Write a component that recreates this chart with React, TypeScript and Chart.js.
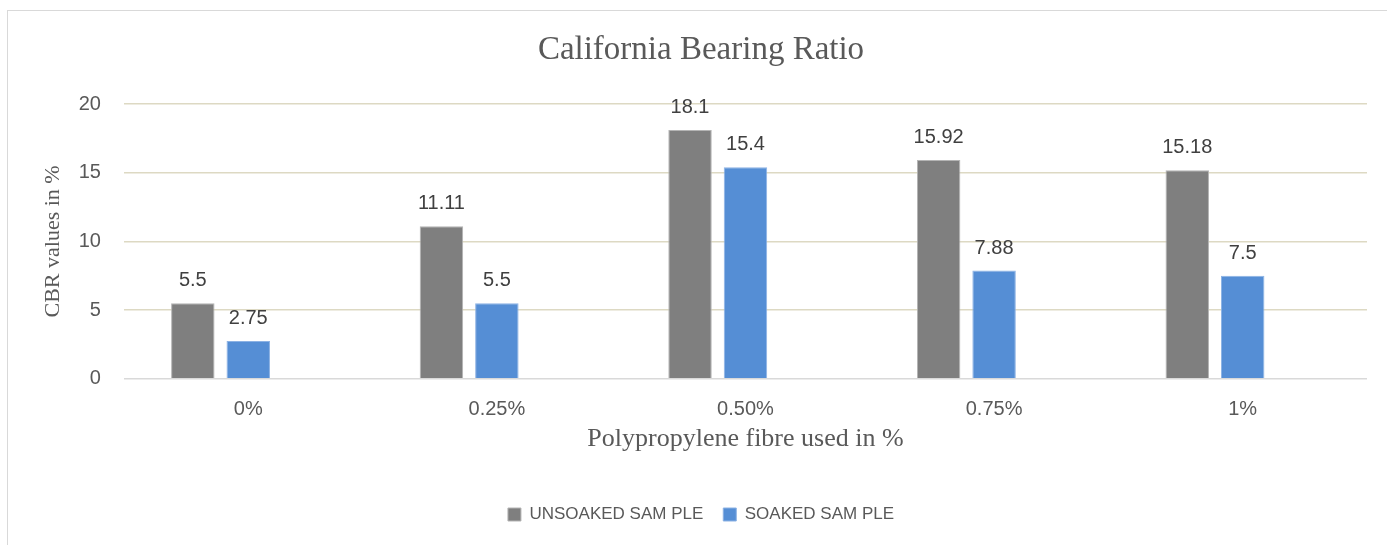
import React, { useEffect, useRef } from "react";
import { Chart, registerables } from "chart.js";

Chart.register(...registerables);

const categories = ["0%", "0.25%", "0.50%", "0.75%", "1%"];
const unsoaked = [5.5, 11.11, 18.1, 15.92, 15.18];
const soaked = [2.75, 5.5, 15.4, 7.88, 7.5];
const emptySeries = [null, null, null, null, null];
const seriesNames = ["UNSOAKED SAM PLE", "SOAKED SAM PLE", ""];
const yTicks = [0, 5, 10, 15, 20];

const SANS = '"Liberation Sans", Arial, Helvetica, sans-serif';
const SERIF = '"Liberation Serif", "Times New Roman", serif';

const valueLabels = {
  id: "valueLabels",
  afterDatasetsDraw(chart: any) {
    const ctx = chart.ctx;
    ctx.save();
    ctx.font = `20px ${SANS}`;
    ctx.fillStyle = "#404040";
    ctx.textAlign = "center";
    ctx.textBaseline = "alphabetic";
    chart.data.datasets.forEach((ds: any, i: number) => {
      const meta = chart.getDatasetMeta(i);
      meta.data.forEach((bar: any, j: number) => {
        const v = ds.data[j];
        if (v == null) return;
        ctx.fillText(String(v), bar.x, bar.y - 17);
      });
    });
    ctx.restore();
  },
};

export default function App() {
  const ref = useRef<HTMLCanvasElement | null>(null);

  useEffect(() => {
    if (!ref.current) return;
    const chart = new Chart(ref.current, {
      type: "bar",
      data: {
        labels: categories,
        datasets: [
          {
            label: seriesNames[0],
            data: unsoaked,
            backgroundColor: "#7f7f7f",
            borderColor: "#b4b4b4",
            borderWidth: 1,
          },
          {
            label: seriesNames[1],
            data: soaked,
            backgroundColor: "#558ed5",
            borderColor: "#8cb2e4",
            borderWidth: 1,
          },
          {
            label: seriesNames[2],
            data: emptySeries as any,
            backgroundColor: "rgba(0,0,0,0)",
          },
        ],
      },
      options: {
        responsive: false,
        animation: false,
        devicePixelRatio: 1,
        datasets: {
          bar: {
            categoryPercentage: 0.669,
            barPercentage: 0.784,
          },
        },
        layout: {
          padding: { left: 28, right: 28, top: 0, bottom: 12 },
        },
        scales: {
          x: {
            grid: { display: false, drawTicks: false },
            border: { display: false },
            ticks: {
              color: "#595959",
              font: { family: SANS, size: 20 },
              padding: 18.5,
            },
            title: {
              display: true,
              text: "Polypropylene fibre used in %",
              color: "#595959",
              font: { family: SERIF, size: 26 },
              padding: { top: -16.5, bottom: 31.5 },
            },
          },
          y: {
            min: 0,
            max: 20,
            afterBuildTicks: (axis: any) => {
              axis.ticks = yTicks.map((v) => ({ value: v }));
            },
            grid: {
              drawTicks: false,
              color: (c: any) => (c.tick && c.tick.value === 0 ? "#d9d9d9" : "#ddd9c3"),
              lineWidth: 1.5,
            },
            border: { display: false },
            ticks: {
              color: "#595959",
              font: { family: SANS, size: 20 },
              padding: 23,
            },
            title: {
              display: true,
              text: "CBR values in %",
              color: "#595959",
              font: { family: SERIF, size: 22 },
              padding: { top: 5.3, bottom: -11 },
            },
          },
        },
        plugins: {
          title: {
            display: true,
            text: "California Bearing Ratio",
            color: "#595959",
            font: { family: SERIF, size: 33, weight: "normal" },
            padding: { top: 20.4, bottom: 34 },
          },
          legend: {
            display: true,
            position: "bottom",
            labels: {
              boxWidth: 13,
              boxHeight: 13,
              padding: 20,
              color: "#595959",
              font: { family: SANS, size: 17 },
              filter: (item: any) => item.text !== "",
            },
          },
          tooltip: { enabled: false },
        },
      },
      plugins: [valueLabels],
    } as any);
    return () => chart.destroy();
  }, []);

  return (
    <div
      style={{
        position: "fixed",
        left: 0,
        top: 0,
        width: 1387,
        height: 545,
        overflow: "hidden",
        background: "#ffffff",
      }}
    >
      <div
        style={{
          position: "absolute",
          left: 7,
          top: 10,
          width: 1450,
          height: 600,
          border: "1px solid #d9d9d9",
        }}
      />
      <div style={{ position: "absolute", left: 7, top: 10, width: 1388, height: 535 }}>
        <canvas ref={ref} width={1388} height={535} style={{ display: "block" }} />
      </div>
    </div>
  );
}
